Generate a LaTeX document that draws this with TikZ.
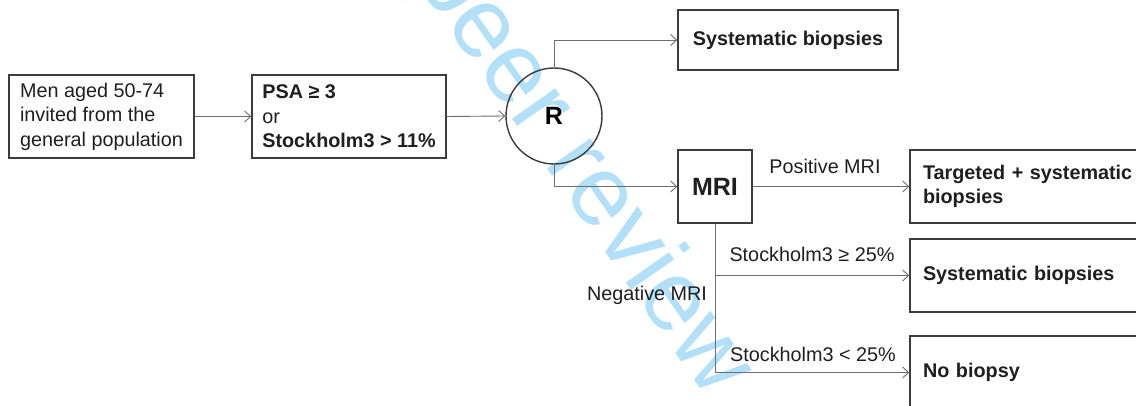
\documentclass[tikz,border=0pt]{standalone}
\usepackage{fontspec}
\setmainfont{Liberation Sans}
\usetikzlibrary{arrows.meta}
\definecolor{wmblue}{RGB}{178,224,248}
\definecolor{boxline}{RGB}{60,60,60}
\definecolor{connline}{RGB}{110,110,110}
\begin{document}
\begin{tikzpicture}[x=1pt,y=-1pt,
  txt/.style={font=\fontsize{19.8}{24.5}\selectfont, text=black!88},
  lbl/.style={txt, inner sep=0pt},
  box/.style={txt, draw=boxline, line width=1.4pt, inner sep=0pt, align=left, rectangle},
  rbox/.style={box, minimum width=240pt, minimum height=73pt, text width=214pt,
    font=\fontsize{19.8}{24.5}\selectfont\bfseries},
  conn/.style={draw=connline, line width=0.9pt, -{Straight Barb[length=6pt,width=11pt]}},
  wm/.style={text=wmblue, font=\fontsize{100}{100}\selectfont, inner sep=0pt}
]
\useasboundingbox (0,0) rectangle (1136,406);
\clip (0,0) rectangle (1136,406);
\fill[white] (0,0) rectangle (1136,406);
% watermark
\node[wm, rotate=-55] (wmk) at (531,101) {For peer review};
% nodes
\node[box, minimum width=185pt, minimum height=83pt] (men) at (101.5,116.5)
  {Men aged 50-74\\invited from the\\general population};
\node[box, minimum width=194pt, minimum height=83pt] (psa) at (349,116.5)
  {\textbf{PSA ≥ 3}\\or\\\textbf{Stockholm3 > 11\%}};
\node[draw=boxline, line width=1.4pt, circle, minimum size=96pt, inner sep=0pt,
  font=\fontsize{25}{25}\selectfont\bfseries] (r) at (554,116) {R};
\node[box, minimum width=220pt, minimum height=60pt, font=\fontsize{19.8}{24.5}\selectfont\bfseries] (sysa) at (788,40)
  {Systematic biopsies};
\node[box, minimum width=74pt, minimum height=73pt, align=center, font=\fontsize{25}{25}\selectfont\bfseries] (mri) at (715,186.5) {MRI};
\node[rbox] (targ) at (1030,186.5) {Targeted + systematic\\biopsies};
\node[rbox] (sysb) at (1030,275.5) {Systematic biopsies};
\node[rbox] (nob) at (1030,372.5) {No biopsy};
% labels
\node[lbl] (lpos) at (825,166) {Positive MRI};
\node[lbl] (lhi) at (812,254) {Stockholm3 ≥ 25\%};
\node[lbl] (lneg) at (647,295) {Negative MRI};
\node[lbl] (llo) at (813,354) {Stockholm3 < 25\%};
% connectors
\draw[conn] (men.east) -- (psa.west);
\draw[conn] (psa.east) -- (r.west);
\draw[conn] (r.north) |- (sysa.west);
\draw[conn] (r.south) |- (mri.west);
\draw[conn] (mri.east) -- (targ.west);
\draw[conn] (mri.south) |- (nob.west);
\draw[conn] (mri.south |- sysb.west) -- (sysb.west);
\end{tikzpicture}
\end{document}
